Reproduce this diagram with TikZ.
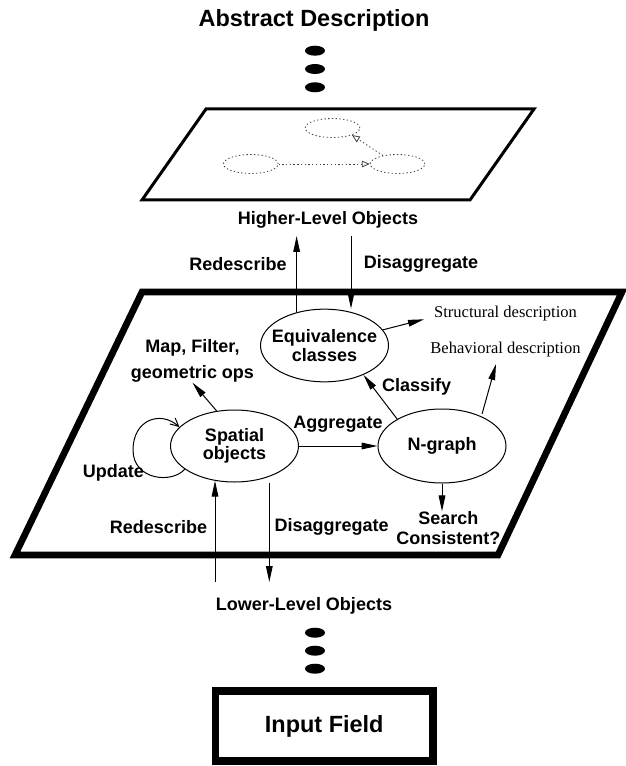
\documentclass[tikz,border=0pt]{standalone}
\usepackage{fontspec}
\setmainfont{Liberation Serif}
\setsansfont{Liberation Sans}
\usetikzlibrary{shapes.geometric,arrows.meta}

\begin{document}
\begin{tikzpicture}[x=0.75pt,y=-0.75pt,>={Triangle[length=12pt,width=5pt]},
    lbl/.style={font=\sffamily\bfseries\fontsize{13.5}{13.9}\selectfont,inner sep=0pt,align=center},
    big/.style={font=\sffamily\bfseries\fontsize{17.6}{20}\selectfont,inner sep=0pt},
    desc/.style={font=\rmfamily\fontsize{12.4}{14}\selectfont,inner sep=0pt},
    obj/.style={draw,ellipse,line width=0.75pt,inner sep=0pt,minimum width=96pt,minimum height=54.5pt},
    ghost/.style={draw=black!75,ellipse,dash pattern=on 1pt off 1.8pt,line width=0.6pt,minimum width=41pt,minimum height=14.25pt,inner sep=0pt},
    blob/.style={fill,ellipse,minimum width=15pt,minimum height=7.5pt,inner sep=0pt},
    conn/.style={->,line width=0.75pt}]
    \useasboundingbox (0,0) rectangle (625,766);
    \node[big] (abstract) at (314,20) {Abstract Description};
    \foreach \y [count=\i] in {50.7,69,87.3}
        \node[blob] (topdot\i) at (315,\y) {};
    \draw[line width=2.25pt] (206,109) -- (534,109) -- (470,200) -- (142,200) -- cycle;
    \node[ghost] (hA) at (332.5,128) {};
    \node[ghost] (hB) at (250.8,164) {};
    \node[ghost] (hC) at (397.5,164) {};
    \draw[black!75,line width=0.6pt,dash pattern=on 1pt off 1.8pt,-{Triangle[open,length=6pt,width=5pt]}] (hB) -- (hC);
    \draw[black!75,line width=0.6pt,dash pattern=on 1pt off 1.8pt,-{Triangle[open,length=6pt,width=5pt]}] (hC.150) -- (hA.-20);
    \node[lbl] (higher) at (328,220) {Higher-Level Objects};
    \coordinate (hiup) at (297,236);
    \coordinate (hidn) at (351,236);
    \node[lbl] (redesc1) at (238,264) {Redescribe};
    \node[lbl] (disagg1) at (421,264) {Disaggregate};
    \draw[line width=5pt] (142,292) -- (622,292) -- (498,555) -- (15,555) -- cycle;
    \node[obj,label={[lbl]center:Equivalence\\classes}] (equiv) at (324.5,345.5) {};
    \node[obj,minimum height=54pt,label={[lbl]center:Spatial\\objects}] (spatial) at (234.5,446) {};
    \node[obj,minimum height=55.5pt,label={[lbl]center:N-graph}] (ngraph) at (442,446) {};
    \draw[conn] (equiv.130) -- (equiv.130 |- hiup);
    \draw[conn] (hidn) -- (hidn |- equiv.north);
    \node[desc] (struct) at (505.5,314) {Structural description};
    \node[desc] (behav) at (505.5,350) {Behavioral description};
    \coordinate (stip) at (424,319.3);
    \coordinate (btip) at (496,364);
    \draw[conn] (equiv.15) -- (stip);
    \draw[conn,shorten <=2pt] (ngraph.37) -- (btip);
    \node[lbl,font=\sffamily\bfseries\fontsize{13.5}{19.5}\selectfont] (mapops) at (192.5,361) {Map, Filter,\\geometric ops};
    \draw[conn] (spatial.117) -- (mapops.south);
    \node[lbl] (classify) at (416.7,387.3) {Classify};
    \draw[conn] (ngraph.149) -- (equiv.-37);
    \node[lbl] (aggregate) at (338,424) {Aggregate};
    \draw[conn] (spatial) -- (ngraph);
    \node[lbl] (update) at (113.3,473.3) {Update};
    \coordinate (loopw) at (133,450);
    \draw[line width=0.75pt,-{Straight Barb[length=6pt,width=6pt]}] (spatial.205) .. controls (172,484) and (133,480) .. (loopw) .. controls (133,420) and (160,410) .. (spatial.161);
    \node[lbl,font=\sffamily\bfseries\fontsize{13.5}{15}\selectfont] (search) at (448.3,528.3) {Search\\Consistent?};
    \draw[conn] (ngraph.south) -- (ngraph.south |- search.north);
    \coordinate (loup) at (215,582);
    \coordinate (lodn) at (269.3,582);
    \node[lbl] (redesc2) at (158.5,526.7) {Redescribe};
    \node[lbl] (disagg2) at (331.7,526.7) {Disaggregate};
    \draw[conn] (loup) -- (loup |- spatial.240);
    \draw[conn] (lodn |- spatial.south) -- (lodn);
    \node[lbl] (lower) at (304,606) {Lower-Level Objects};
    \foreach \y [count=\i] in {632.7,650.7,668.7}
        \node[blob] (lowdot\i) at (315,\y) {};
    \node[big,draw,line width=5.5pt,minimum width=163.3pt,minimum height=52.5pt] (input) at (324.2,726) {Input Field};
\end{tikzpicture}
\end{document}
